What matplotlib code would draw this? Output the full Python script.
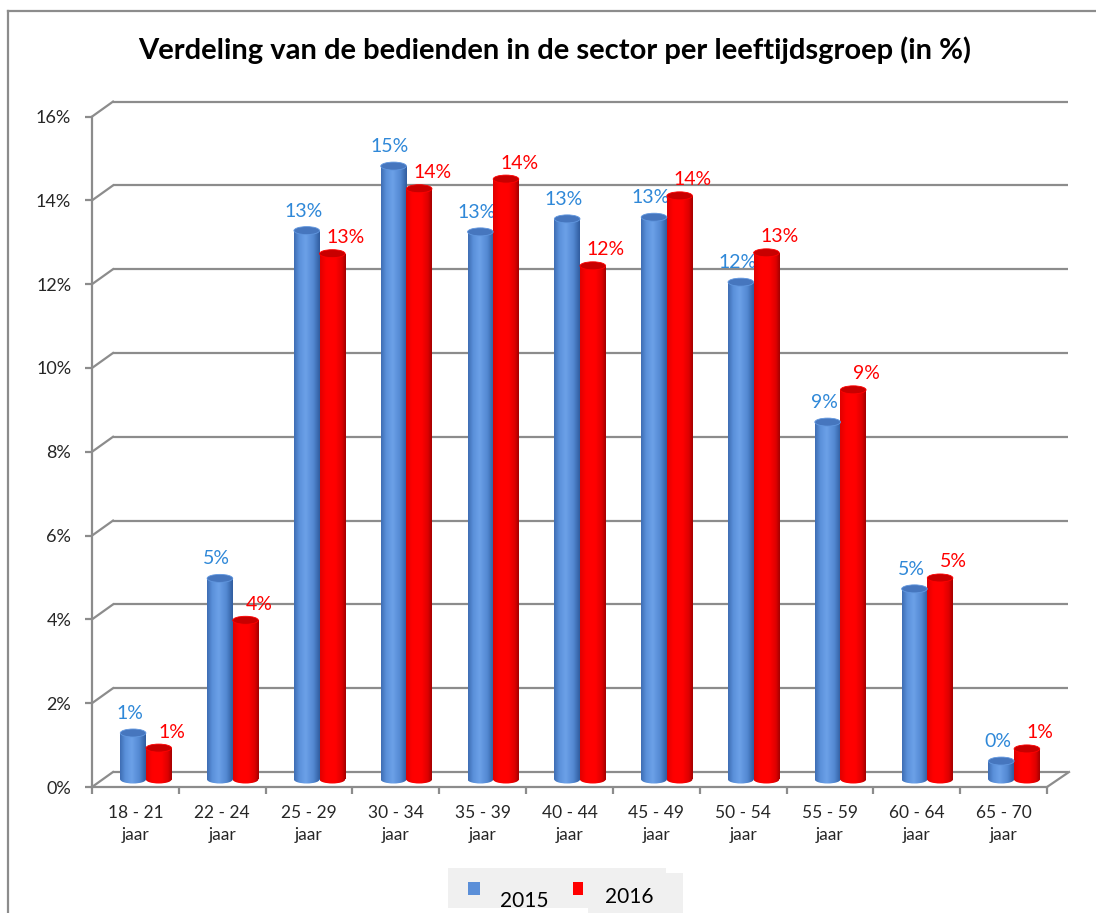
import numpy as np
import matplotlib
matplotlib.use("Agg")
import matplotlib.pyplot as plt
from matplotlib.colors import LinearSegmentedColormap
from matplotlib.patches import Rectangle, Ellipse
from matplotlib.transforms import ScaledTranslation
from matplotlib.lines import Line2D

# data (percent of employees per age group)
groups = ["18 - 21", "22 - 24", "25 - 29", "30 - 34", "35 - 39", "40 - 44",
          "45 - 49", "50 - 54", "55 - 59", "60 - 64", "65 - 70"]
pct_2015 = [1.11, 4.8, 13.1, 14.64, 13.07, 13.38, 13.42, 11.87, 8.53, 4.55, 0.44]
pct_2016 = [0.75, 3.8, 12.55, 14.1, 14.33, 12.26, 13.93, 12.57, 9.3, 4.81, 0.73]
years = ["2015", "2016"]
yticks = [0, 2, 4, 6, 8, 10, 12, 14, 16]

plt.rcParams["font.family"] = ["Lato", "DejaVu Sans"]

W, H = 1096, 913
fig = plt.figure(figsize=(W / 100, H / 100), dpi=100)
fig.patch.set_facecolor("white")


def fx(x):
    return x / W


def fy(y):
    return 1 - y / H


grid_col = "#8C8C8C"
txt_col = "#262626"

# front plane axes
ax = fig.add_axes([fx(92), fy(787), (1047 - 92) / W, 16 * 41.9 / H])
n = len(groups)
ax.set_xlim(-0.5, n - 0.5)
ax.set_ylim(0, 16)

back = ax.transData + ScaledTranslation(0.21, 0.15, fig.dpi_scale_trans)
mid = ax.transData + ScaledTranslation(0.105, 0.075, fig.dpi_scale_trans)

# back wall gridlines + diagonal connectors
for v in yticks:
    ax.plot([-0.5, n - 0.5], [v, v], color=grid_col, lw=1.6, transform=back,
            zorder=1, solid_capstyle="butt", clip_on=False)
    p = ax.transData.transform((-0.5, v))
    fig.lines.append(Line2D([p[0], p[0] + 21], [p[1], p[1] + 15],
                            transform=None, color=grid_col, lw=1.6))
p = ax.transData.transform((n - 0.5, 0))
fig.lines.append(Line2D([p[0], p[0] + 22], [p[1], p[1] + 15],
                        transform=None, color=grid_col, lw=1.6))

# axes spines / ticks
for s in ["top", "right"]:
    ax.spines[s].set_visible(False)
for s in ["left", "bottom"]:
    ax.spines[s].set_color(grid_col)
    ax.spines[s].set_linewidth(1.6)
ax.patch.set_alpha(0)
ax.set_yticks(yticks)
ax.set_yticklabels([f"{v}%" for v in yticks])
ax.tick_params(axis="y", length=5, width=1.6, color=grid_col, pad=10,
               labelsize=13, labelcolor=txt_col)
ax.set_xticks(np.arange(-0.5, n, 1.0))
ax.set_xticklabels([])
ax.tick_params(axis="x", length=5, width=1.6, color=grid_col)
ax.set_xticks(np.arange(n), minor=True)
ax.set_xticklabels([g + "\njaar" for g in groups], minor=True, linespacing=1.45)
ax.tick_params(axis="x", which="minor", length=0, pad=13, labelsize=12.5,
               labelcolor=txt_col)

# cylinder shading
blue_cm = LinearSegmentedColormap.from_list(
    "b", [(0, "#3D6CB2"), (0.2, "#5A90DA"), (0.45, "#6CA1E8"), (0.75, "#5388D2"), (1, "#2F5C9E")])
red_cm = LinearSegmentedColormap.from_list(
    "r", [(0, "#E00000"), (0.25, "#FF0000"), (0.6, "#FF0000"), (0.85, "#DD0000"), (1, "#A00000")])
top_cols = ["#4676BE", "#C80000"]
lab_cols = ["#2F88D8", "#FF0000"]
lab_off = [(-2.5, 14), (9.5, 11.5)]

bw = 0.295
eh = 8 / 41.9
grad = np.linspace(0, 1, 256).reshape(1, -1)

for k, (vals, cm) in enumerate([(pct_2015, blue_cm), (pct_2016, red_cm)]):
    xs = np.arange(n) - bw + k * bw
    bars = ax.bar(xs, vals, bw, align="edge", transform=mid, color=cm(0.5),
                  lw=0, zorder=3, label=years[k], clip_on=False)
    for rect, x0, v in zip(bars, xs, vals):
        im = ax.imshow(grad, cmap=cm, extent=[x0, x0 + bw, 0, v], aspect="auto",
                       transform=mid, zorder=3.1, interpolation="bicubic")
        im.set_clip_path(rect)
        base = Ellipse((x0 + bw / 2, 0), bw, eh, transform=mid, lw=0, zorder=3)
        ax.add_patch(base)
        base.set_visible(False)
        im2 = ax.imshow(grad, cmap=cm, extent=[x0, x0 + bw, -eh, eh], aspect="auto",
                        transform=mid, zorder=3.05, interpolation="bicubic")
        im2.set_clip_path(base)
        ax.add_patch(Ellipse((x0 + bw / 2, v), bw, eh, transform=mid, clip_on=False,
                             facecolor=top_cols[k], edgecolor=cm(0.3), lw=0.6, zorder=3.2))
        ax.annotate(f"{v:.0f}%", (x0 + bw / 2, v), xycoords=mid,
                    xytext=lab_off[k], textcoords="offset points",
                    ha="center", va="center", fontsize=14, color=lab_cols[k])

ax.set_xlim(-0.5, n - 0.5)
ax.set_ylim(0, 16)

# title
fig.text(fx(555), fy(50), "Verdeling van de bedienden in de sector per leeftijdsgroep (in %)",
         ha="center", va="center", fontsize=21, fontweight="bold", color="#000000")

# outer frame lines
fig.lines.append(Line2D([fx(8), fx(8)], [fy(11), 0], transform=fig.transFigure,
                        color="#8C8C8C", lw=1.6))
fig.lines.append(Line2D([fx(8), 1], [fy(11), fy(11)], transform=fig.transFigure,
                        color="#8C8C8C", lw=1.6))

# legend (Excel style gray boxes)
fig.patches.append(Rectangle((fx(448), fy(908)), (666 - 448) / W, 40 / H,
                             transform=fig.transFigure, color="#F0F0F0", lw=0))
fig.patches.append(Rectangle((fx(588), fy(913)), (683 - 588) / W, 40 / H,
                             transform=fig.transFigure, color="#F0F0F0", lw=0))
fig.patches.append(Rectangle((fx(468), fy(895)), 12 / W, 13 / H,
                             transform=fig.transFigure, color="#5B8FD8", lw=0))
fig.patches.append(Rectangle((fx(573), fy(895)), 10 / W, 13 / H,
                             transform=fig.transFigure, color="#FF0000", lw=0))
fig.text(fx(500), fy(901), years[0], ha="left", va="center", fontsize=15, color="#000000")
fig.text(fx(605), fy(897), years[1], ha="left", va="center", fontsize=15, color="#000000")

fig.savefig("out.png", dpi=100)
